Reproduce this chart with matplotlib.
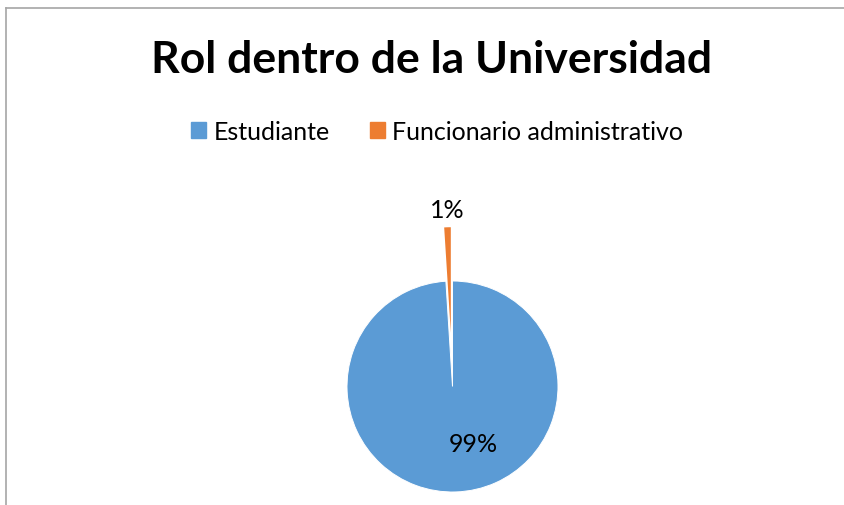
import matplotlib
matplotlib.use("Agg")
import matplotlib.pyplot as plt
from matplotlib.lines import Line2D

categories = ["Estudiante", "Funcionario administrativo"]
values = [99, 1]
colors = ["#5B9BD5", "#ED7D31"]
title = "Rol dentro de la Universidad"

W, H = 844, 506
fig = plt.figure(figsize=(W / 100, H / 100), dpi=100)
plt.rcParams['font.family'] = ['Lato', 'DejaVu Sans']

# frame lines (top and left)
fig.add_artist(Line2D([6 / W, 1.01], [1 - 9 / H, 1 - 9 / H], color="#A6A6A6", lw=1.2, transform=fig.transFigure))
fig.add_artist(Line2D([6 / W, 6 / W], [1 - 9 / H, -0.01], color="#A6A6A6", lw=1.2, transform=fig.transFigure))

cx, cy, R = 452.5, 387.5, 105.5
half = 200
ax = fig.add_axes([(cx - half) / W, (H - cy - half) / H, 2 * half / W, 2 * half / H])

wedges, texts, autotexts = ax.pie(
    values, colors=colors, startangle=90, counterclock=False,
    explode=[0, 0.51], radius=1, autopct='%1.0f%%', pctdistance=1.17,
    wedgeprops=dict(edgecolor="white", linewidth=0.7),
    textprops=dict(fontsize=18, color="#000000"), normalize=True)
lim = half / R
ax.set_xlim(-lim, lim)
ax.set_ylim(-lim, lim)
ax.set_aspect("equal")
ax.axis("off")
for w in wedges:
    w.set_clip_on(False)
wedges[1].set_linewidth(0)
wedges[1].set_zorder(wedges[0].get_zorder() + 1)
autotexts[0].set_position((0.20, -0.54))

fig.text(432 / W, 1 - 60 / H, title, ha="center", va="center", fontsize=32, fontweight="bold")

handles = [plt.Rectangle((0, 0), 1, 1, color=c) for c in colors]
fig.legend(handles, categories, loc="center", bbox_to_anchor=(437 / W, 1 - 132 / H),
           ncol=2, frameon=False, fontsize=18, handlelength=0.6, handleheight=0.6,
           handletextpad=0.3, columnspacing=1.6)

fig.savefig("out.png", dpi=100)
